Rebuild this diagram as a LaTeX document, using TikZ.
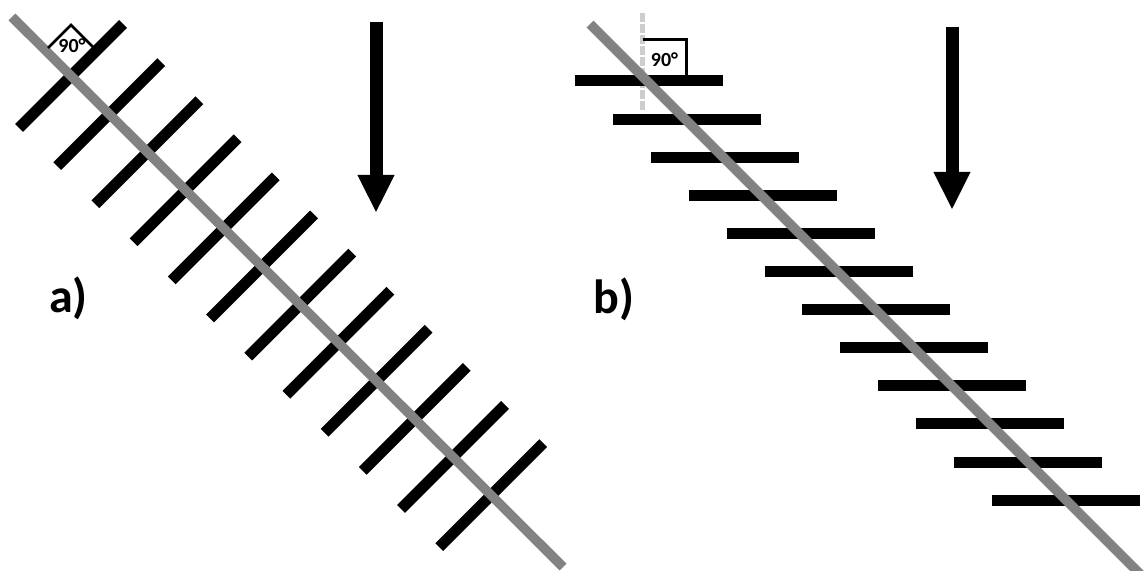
\documentclass[tikz,border=0pt]{standalone}
\usepackage{fontspec}
\setmainfont{Carlito}
\usetikzlibrary{arrows.meta}
\definecolor{axisgray}{RGB}{130,130,130}
\definecolor{refgray}{RGB}{205,205,205}
\tikzset{
  bar/.style={black, line width=5.5pt},
  axisline/.style={axisgray, line width=4.8pt},
  flowarrow/.style={black, line width=6.5pt, -{Triangle[width=17pt, length=19pt]}},
  anglebox/.style={black, line width=1.3pt},
  anglelabel/.style={font=\fontsize{10}{12}\selectfont\bfseries, inner sep=0pt},
  panellabel/.style={font=\fontsize{24}{28}\selectfont\bfseries, inner sep=0pt}
}

\begin{document}
\begin{tikzpicture}[x=0.5pt, y=-0.5pt]
  \useasboundingbox (0,0) rectangle (1144,571);

  % a) Sprossen senkrecht zur Achse
  \foreach \k in {0,...,11}
    \draw[bar] ({19+38.2*\k},{128+38.1*\k}) -- ({123+38.2*\k},{24+38.1*\k});
  \draw[axisline] (12,17) -- (563,567);

  % Winkel a)
  \draw[anglebox] (48,48) -- (71,25) -- (94,48);
  \node[anglelabel] (anga) at (72,46) {90°};

  % Pfeil a)
  \coordinate (atop) at (376,22);
  \coordinate (abot) at (376,213);
  \draw[flowarrow] (atop) -- (abot);
  \node[panellabel] (laba) at (68.5,298) {a)};

  % b) Sprossen waagerecht
  \draw[refgray, line width=2.5pt, dash pattern=on 4.5pt off 1pt] (642.5,13) -- (642.5,112);
  \foreach \k in {0,...,11}
    \draw[bar] ({575+37.9*\k},{81+38.1*\k}) -- ({723+37.9*\k},{81+38.1*\k});
  \draw[axisline] (590,24) -- (1141,575);

  % Winkel b)
  \draw[anglebox] (642.5,39.5) -- (686.5,39.5) -- (686.5,76);
  \node[anglelabel] (angb) at (664.5,60) {90°};

  % Pfeil b)
  \coordinate (btop) at (952,27);
  \coordinate (bbot) at (952,210);
  \draw[flowarrow] (btop) -- (bbot);
  \node[panellabel] (labb) at (614,299) {b)};
\end{tikzpicture}
\end{document}
